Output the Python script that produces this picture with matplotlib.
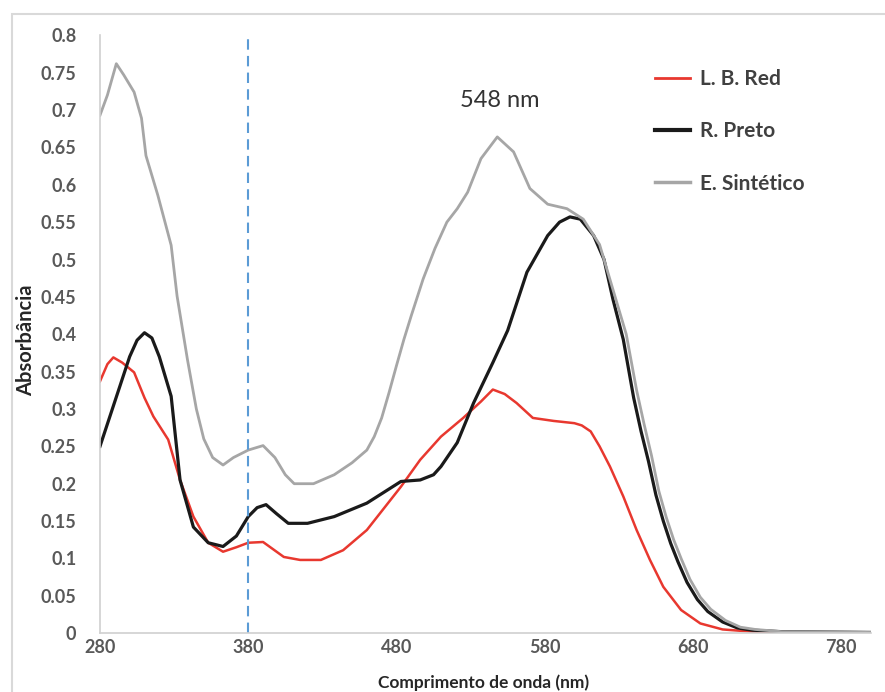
import matplotlib.pyplot as plt
from matplotlib.patches import Rectangle
from matplotlib.ticker import FuncFormatter

# L. B. Red
red_wl = [280, 285, 289, 295, 303, 310, 316, 326, 334, 343, 353, 363, 372, 380, 390,
          397, 404, 415, 429, 444, 460, 483, 496, 510, 525, 537, 545, 553, 561, 572,
          586, 600, 605, 611, 617, 624, 633, 642, 651, 660, 672, 685, 700, 720, 760, 800]
red_abs = [0.337, 0.36, 0.369, 0.362, 0.349, 0.315, 0.29, 0.259, 0.205, 0.156, 0.121,
           0.109, 0.115, 0.121, 0.122, 0.112, 0.102, 0.098, 0.098, 0.111, 0.138, 0.196,
           0.232, 0.263, 0.288, 0.31, 0.326, 0.32, 0.308, 0.288, 0.284, 0.281, 0.278,
           0.27, 0.25, 0.223, 0.183, 0.138, 0.098, 0.062, 0.031, 0.013, 0.005, 0.002,
           0.001, 0.001]

# R. Preto
black_wl = [280, 290, 300, 305, 310, 315, 320, 328, 334, 343, 353, 363, 372, 380, 386,
            392, 399, 407, 420, 438, 460, 483, 496, 505, 510, 521, 532, 545, 555, 568,
            582, 590, 597, 604, 613, 620, 626, 633, 640, 645, 650, 655, 660, 665, 670,
            676, 683, 690, 700, 710, 720, 740, 800]
black_abs = [0.25, 0.31, 0.37, 0.392, 0.402, 0.395, 0.37, 0.317, 0.205, 0.142, 0.121,
             0.116, 0.13, 0.156, 0.168, 0.172, 0.16, 0.147, 0.147, 0.156, 0.174, 0.203,
             0.205, 0.212, 0.223, 0.255, 0.308, 0.362, 0.405, 0.483, 0.532, 0.55, 0.557,
             0.554, 0.532, 0.5, 0.447, 0.393, 0.315, 0.27, 0.23, 0.185, 0.15, 0.12,
             0.095, 0.068, 0.045, 0.029, 0.015, 0.007, 0.004, 0.002, 0.001]

# E. Sintético
gray_wl = [280, 285, 291, 296, 303, 308, 311, 319, 328, 332, 339, 345, 350, 356, 363,
           370, 380, 390, 398, 405, 411, 424, 438, 450, 460, 465, 470, 475, 480, 485,
           490, 498, 506, 514, 521, 528, 537, 548, 559, 570, 582, 595, 606, 617, 626,
           635, 642, 647, 652, 657, 662, 667, 672, 678, 685, 692, 702, 712, 722, 740, 800]
gray_abs = [0.693, 0.72, 0.762, 0.747, 0.724, 0.689, 0.639, 0.586, 0.519, 0.451, 0.366,
            0.3, 0.26, 0.235, 0.225, 0.235, 0.245, 0.251, 0.235, 0.212, 0.2, 0.2, 0.212,
            0.228, 0.245, 0.263, 0.288, 0.322, 0.358, 0.393, 0.425, 0.474, 0.515, 0.55,
            0.568, 0.59, 0.635, 0.664, 0.644, 0.595, 0.574, 0.568, 0.554, 0.52, 0.46,
            0.4, 0.325, 0.28, 0.238, 0.19, 0.155, 0.125, 0.1, 0.072, 0.048, 0.032,
            0.017, 0.008, 0.005, 0.002, 0.001]

peak_label = "548 nm"
dash_x = 380

plt.rcParams['font.family'] = ['Lato', 'DejaVu Sans']

fig = plt.figure(figsize=(8.85, 6.92), dpi=100)
ax = fig.add_axes([0.113, 0.085, 0.871, 0.864])

ax.plot(red_wl, red_abs, color='#E8382F', lw=1.8, label='L. B. Red')
ax.plot(black_wl, black_abs, color='#1a1a1a', lw=2.3, label='R. Preto')
ax.plot(gray_wl, gray_abs, color='#A6A6A6', lw=2.0, label='E. Sintético')
ax.plot([dash_x, dash_x], [0, 0.8], color='#5B9BD5', lw=1.5, ls=(0, (5, 3)))

ax.text(550, 0.713, peak_label, ha='center', va='center', fontsize=17,
        color='#333333')

ax.set_xlim(280, 800)
ax.set_ylim(0, 0.8)
ax.set_xticks([280, 380, 480, 580, 680, 780])
ax.set_yticks([i * 0.05 for i in range(17)])
ax.yaxis.set_major_formatter(FuncFormatter(lambda v, p: '%g' % round(v, 2)))
ax.tick_params(length=0, labelsize=13, labelcolor='#595959')
ax.tick_params(axis='y', pad=17)
ax.tick_params(axis='x', pad=4)
for lab in ax.get_xticklabels() + ax.get_yticklabels():
    lab.set_fontweight('bold')

for s in ['top', 'right']:
    ax.spines[s].set_visible(False)
for s in ['left', 'bottom']:
    ax.spines[s].set_color('#D0D0D0')
    ax.spines[s].set_linewidth(1.2)

ax.set_xlabel('Comprimento de onda (nm)', fontsize=12.5, fontweight='bold',
              color='#262626')
ax.set_ylabel('Absorbância', fontsize=14.5, fontweight='bold', color='#262626')
ax.xaxis.set_label_coords(0.497, -0.069)
ax.yaxis.set_label_coords(-0.083, 0.49)

leg = ax.legend(loc='upper left', bbox_to_anchor=(655 / 885, 1 - 69 / 692),
                bbox_transform=fig.transFigure, frameon=False, fontsize=15,
                handlelength=1.7, handletextpad=0.45, labelspacing=1.55,
                borderpad=0, borderaxespad=0)
for t in leg.get_texts():
    t.set_fontweight('bold')
    t.set_color('#404040')
for h, w in zip(leg.get_lines(), [2.0, 3.0, 2.5]):
    h.set_linewidth(w)

fig.patches.append(Rectangle((12 / 885, -0.01), 1.0, 1 - 14 / 692 + 0.01,
                             transform=fig.transFigure, fill=False,
                             edgecolor='#D9D9D9', lw=1.5))

fig.savefig('out.png', dpi=100)
